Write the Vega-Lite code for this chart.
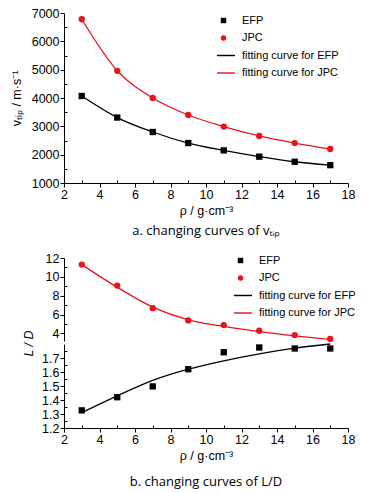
{
  "$schema": "https://vega.github.io/schema/vega-lite/v6.json",
  "padding": {"left": 10, "top": 7, "right": 5, "bottom": 5},
  "background": "white",
  "config": {
    "view": {"stroke": null},
    "axis": {
      "grid": false,
      "domainColor": "black",
      "domainWidth": 1,
      "tickColor": "black",
      "tickWidth": 1,
      "labelColor": "black",
      "labelFont": "Liberation Sans",
      "labelFontSize": 12.5,
      "labelOverlap": false,
      "labelBound": false,
      "labelFlush": false,
      "titleFont": "Liberation Sans",
      "titleFontSize": 12.5,
      "titleFontWeight": "normal",
      "titleColor": "black"
    },
    "legend": {
      "labelFont": "Liberation Sans",
      "labelFontSize": 11,
      "labelColor": "black",
      "symbolSize": 30,
      "symbolStrokeWidth": 0,
      "rowPadding": 5.5,
      "labelOffset": 13
    },
    "title": {"font": "Open Sans", "fontSize": 13, "fontWeight": "normal", "color": "black"}
  },
  "spacing": 14,
  "resolve": {"legend": {"color": "independent", "shape": "independent"}},
  "vconcat": [
    {
      "width": 284,
      "height": 170,
      "title": {"text": "a.  changing curves of vₜᵢₚ", "orient": "bottom", "frame": "group", "offset": 8},
      "encoding": {
        "x": {"field": "rho", "type": "quantitative", "scale": {"domain": [2, 18], "nice": false},
          "axis": {"title": "ρ / g·cm⁻³", "values": [2,3,4,5,6,7,8,9,10,11,12,13,14,15,16,17,18],
            "labelOpacity": {"condition": {"test": "datum.value % 2 != 0", "value": 0}, "value": 1},
            "tickSize": {"condition": {"test": "datum.value % 2 != 0", "value": -3}, "value": 4},
            "labelPadding": 1, "titlePadding": 4}},
        "y": {"field": "v", "type": "quantitative", "scale": {"domain": [1000, 7000], "nice": false},
          "axis": {"title": "vₜᵢₚ / m·s⁻¹", "values": [1000,1500,2000,2500,3000,3500,4000,4500,5000,5500,6000,6500,7000],
            "format": "d",
            "labelOpacity": {"condition": {"test": "datum.value % 1000 != 0", "value": 0}, "value": 1},
            "tickSize": {"condition": {"test": "datum.value % 1000 != 0", "value": -3}, "value": 4},
            "labelPadding": 1, "titlePadding": 8}}
      },
      "layer": [
        {
          "data": {"values": [
            {"rho": 3, "v": 4070, "series": "EFP"},
            {"rho": 5, "v": 3310, "series": "EFP"},
            {"rho": 7, "v": 2800, "series": "EFP"},
            {"rho": 9, "v": 2410, "series": "EFP"},
            {"rho": 11, "v": 2150, "series": "EFP"},
            {"rho": 13, "v": 1930, "series": "EFP"},
            {"rho": 15, "v": 1750, "series": "EFP"},
            {"rho": 17, "v": 1630, "series": "EFP"},
            {"rho": 3, "v": 6780, "series": "JPC"},
            {"rho": 5, "v": 4960, "series": "JPC"},
            {"rho": 7, "v": 4000, "series": "JPC"},
            {"rho": 9, "v": 3400, "series": "JPC"},
            {"rho": 11, "v": 2990, "series": "JPC"},
            {"rho": 13, "v": 2660, "series": "JPC"},
            {"rho": 15, "v": 2410, "series": "JPC"},
            {"rho": 17, "v": 2200, "series": "JPC"}
          ]},
          "mark": {"type": "point", "filled": true, "size": 40, "opacity": 1},
          "encoding": {
            "color": {"field": "series", "type": "nominal",
              "scale": {"domain": ["EFP", "JPC", "fitting curve for EFP", "fitting curve for JPC"], "range": ["#000000", "#e8141b", "#000000", "#e8141b"]},
              "legend": {"orient": "none", "legendX": 154, "legendY": 2, "title": null}},
            "shape": {"field": "series", "type": "nominal",
              "scale": {"domain": ["EFP", "JPC", "fitting curve for EFP", "fitting curve for JPC"], "range": ["square", "circle", "M-2.4,-0.26H4.2V0.26H-2.4Z", "M-2.4,-0.26H4.2V0.26H-2.4Z"]},
              "legend": {"orient": "none", "legendX": 154, "legendY": 2, "title": null}}
          }
        },
        {
          "data": {"values": [
            {"rho": 3, "v": 4070, "series": "fitting curve for EFP"},
            {"rho": 5, "v": 3310, "series": "fitting curve for EFP"},
            {"rho": 7, "v": 2800, "series": "fitting curve for EFP"},
            {"rho": 9, "v": 2410, "series": "fitting curve for EFP"},
            {"rho": 11, "v": 2150, "series": "fitting curve for EFP"},
            {"rho": 13, "v": 1930, "series": "fitting curve for EFP"},
            {"rho": 15, "v": 1750, "series": "fitting curve for EFP"},
            {"rho": 17, "v": 1630, "series": "fitting curve for EFP"},
            {"rho": 3, "v": 6780, "series": "fitting curve for JPC"},
            {"rho": 5, "v": 4960, "series": "fitting curve for JPC"},
            {"rho": 7, "v": 4000, "series": "fitting curve for JPC"},
            {"rho": 9, "v": 3400, "series": "fitting curve for JPC"},
            {"rho": 11, "v": 2990, "series": "fitting curve for JPC"},
            {"rho": 13, "v": 2660, "series": "fitting curve for JPC"},
            {"rho": 15, "v": 2410, "series": "fitting curve for JPC"},
            {"rho": 17, "v": 2200, "series": "fitting curve for JPC"}
          ]},
          "mark": {"type": "line", "interpolate": "monotone", "strokeWidth": 1.3},
          "encoding": {
            "color": {"field": "series", "type": "nominal", "legend": null}
          }
        }
      ]
    },
    {
      "spacing": 3,
      "bounds": "flush",
      "resolve": {"legend": {"color": "independent", "shape": "independent"}},
      "vconcat": [
        {
          "width": 284,
          "height": 83,
          "encoding": {
            "x": {"field": "rho", "type": "quantitative", "scale": {"domain": [2, 18], "nice": false}, "axis": null},
            "y": {"field": "ld", "type": "quantitative", "scale": {"domain": [3.2, 12], "nice": false, "zero": false},
              "axis": {"title": "L / D", "titleFontStyle": "italic", "titleY": 85,
                "values": [4,5,6,7,8,9,10,11,12],
                "labelOpacity": {"condition": {"test": "datum.value % 2 != 0", "value": 0}, "value": 1},
                "tickSize": {"condition": {"test": "datum.value % 2 != 0", "value": -3}, "value": 4},
                "labelPadding": 1, "titlePadding": 10}}
          },
          "layer": [
            {
              "data": {"values": [
                {"rho": 3, "ld": 11.3, "series": "JPC"},
                {"rho": 5, "ld": 9.08, "series": "JPC"},
                {"rho": 7, "ld": 6.68, "series": "JPC"},
                {"rho": 9, "ld": 5.38, "series": "JPC"},
                {"rho": 11, "ld": 4.89, "series": "JPC"},
                {"rho": 13, "ld": 4.29, "series": "JPC"},
                {"rho": 15, "ld": 3.83, "series": "JPC"},
                {"rho": 17, "ld": 3.41, "series": "JPC"}
              ]},
              "mark": {"type": "point", "filled": true, "size": 40, "opacity": 1},
              "encoding": {
                "color": {"field": "series", "type": "nominal",
                  "scale": {"domain": ["EFP", "JPC", "fitting curve for EFP", "fitting curve for JPC"], "range": ["#000000", "#e8141b", "#000000", "#e8141b"]},
                  "legend": {"orient": "none", "legendX": 171, "legendY": -3, "title": null}},
                "shape": {"field": "series", "type": "nominal",
                  "scale": {"domain": ["EFP", "JPC", "fitting curve for EFP", "fitting curve for JPC"], "range": ["square", "circle", "M-2.4,-0.26H4.2V0.26H-2.4Z", "M-2.4,-0.26H4.2V0.26H-2.4Z"]},
                  "legend": {"orient": "none", "legendX": 171, "legendY": -3, "title": null}}
              }
            },
            {
              "data": {"values": [
                {"rho": 3, "ld": 11.3, "series": "fitting curve for JPC"},
                {"rho": 5, "ld": 8.9, "series": "fitting curve for JPC"},
                {"rho": 7, "ld": 6.8, "series": "fitting curve for JPC"},
                {"rho": 9, "ld": 5.45, "series": "fitting curve for JPC"},
                {"rho": 11, "ld": 4.75, "series": "fitting curve for JPC"},
                {"rho": 13, "ld": 4.2, "series": "fitting curve for JPC"},
                {"rho": 15, "ld": 3.75, "series": "fitting curve for JPC"},
                {"rho": 17, "ld": 3.38, "series": "fitting curve for JPC"}
              ]},
              "mark": {"type": "line", "interpolate": "monotone", "strokeWidth": 1.3},
              "encoding": {
                "color": {"field": "series", "type": "nominal", "legend": null}
              }
            },
            {
              "data": {"values": [{}]},
              "mark": {"type": "text", "text": "//", "font": "Liberation Sans", "fontSize": 11, "baseline": "middle", "align": "center", "dy": 2, "color": "black"},
              "encoding": {
                "x": {"datum": 2, "type": "quantitative"},
                "y": {"datum": 3.2, "type": "quantitative"}
              }
            }
          ]
        },
        {
          "width": 284,
          "height": 84,
          "title": {"text": "b.  changing curves of L/D", "orient": "bottom", "frame": "group", "offset": 14},
          "encoding": {
            "x": {"field": "rho", "type": "quantitative", "scale": {"domain": [2, 18], "nice": false},
              "axis": {"title": "ρ / g·cm⁻³", "values": [2,3,4,5,6,7,8,9,10,11,12,13,14,15,16,17,18],
                "labelOpacity": {"condition": {"test": "datum.value % 2 != 0", "value": 0}, "value": 1},
                "tickSize": {"condition": {"test": "datum.value % 2 != 0", "value": -3}, "value": 4},
                "labelPadding": 1, "titlePadding": 4}},
            "y": {"field": "ld", "type": "quantitative", "scale": {"domain": [1.2, 1.8], "nice": false, "zero": false},
              "axis": {"title": null, "format": ".1f",
                "values": [1.2,1.25,1.3,1.35,1.4,1.45,1.5,1.55,1.6,1.65,1.7,1.75],
                "labelOpacity": {"condition": {"test": "abs(datum.value*10 - round(datum.value*10)) > 0.01", "value": 0}, "value": 1},
                "tickSize": {"condition": {"test": "abs(datum.value*10 - round(datum.value*10)) > 0.01", "value": -3}, "value": 4},
                "labelPadding": 1}}
          },
          "layer": [
            {
              "data": {"values": [
                {"rho": 3, "ld": 1.326, "series": "EFP"},
                {"rho": 5, "ld": 1.42, "series": "EFP"},
                {"rho": 7, "ld": 1.497, "series": "EFP"},
                {"rho": 9, "ld": 1.62, "series": "EFP"},
                {"rho": 11, "ld": 1.741, "series": "EFP"},
                {"rho": 13, "ld": 1.775, "series": "EFP"},
                {"rho": 15, "ld": 1.768, "series": "EFP"},
                {"rho": 17, "ld": 1.768, "series": "EFP"}
              ]},
              "mark": {"type": "point", "filled": true, "size": 40, "opacity": 1},
              "encoding": {
                "color": {"field": "series", "type": "nominal",
                  "scale": {"domain": ["EFP", "JPC", "fitting curve for EFP", "fitting curve for JPC"], "range": ["#000000", "#e8141b", "#000000", "#e8141b"]},
                  "legend": null},
                "shape": {"field": "series", "type": "nominal",
                  "scale": {"domain": ["EFP", "JPC", "fitting curve for EFP", "fitting curve for JPC"], "range": ["square", "circle", "M-2.4,-0.26H4.2V0.26H-2.4Z", "M-2.4,-0.26H4.2V0.26H-2.4Z"]},
                  "legend": null}
              }
            },
            {
              "data": {"values": [
                {"rho": 3, "ld": 1.31, "series": "fitting curve for EFP"},
                {"rho": 5, "ld": 1.43, "series": "fitting curve for EFP"},
                {"rho": 7, "ld": 1.54, "series": "fitting curve for EFP"},
                {"rho": 9, "ld": 1.62, "series": "fitting curve for EFP"},
                {"rho": 11, "ld": 1.68, "series": "fitting curve for EFP"},
                {"rho": 13, "ld": 1.73, "series": "fitting curve for EFP"},
                {"rho": 15, "ld": 1.77, "series": "fitting curve for EFP"},
                {"rho": 17, "ld": 1.8, "series": "fitting curve for EFP"}
              ]},
              "mark": {"type": "line", "interpolate": "monotone", "strokeWidth": 1.3},
              "encoding": {
                "color": {"field": "series", "type": "nominal", "legend": null}
              }
            }
          ]
        }
      ]
    }
  ]
}
